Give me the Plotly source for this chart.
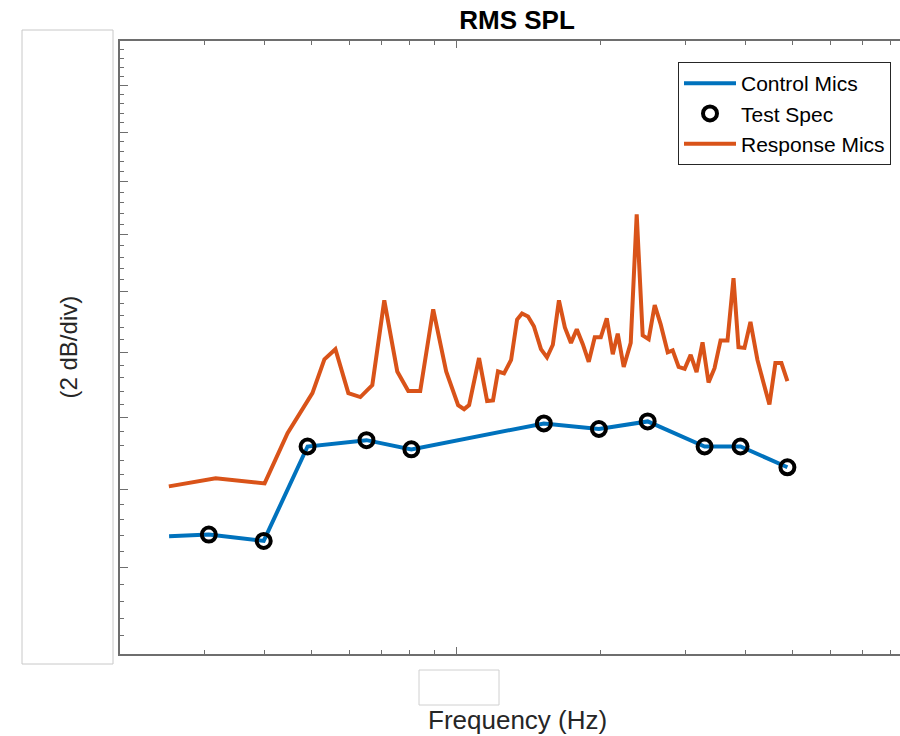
import plotly.graph_objects as go

# Control-microphone average level vs. frequency
control_freq = [25.3, 30.6, 39.8, 49.1, 65.1, 80.7, 152.2, 198.1, 250.2, 328.6, 390.3, 488.5]
control_level = [10.39, 10.41, 10.33, 11.59, 11.68, 11.55, 11.92, 11.84, 11.95, 11.59, 11.59, 11.30]

# Test specification breakpoints
spec_freq = [30.6, 39.8, 49.1, 65.1, 80.7, 152.2, 198.1, 250.2, 328.6, 390.3, 488.5]
spec_level = [10.41, 10.33, 11.59, 11.68, 11.55, 11.92, 11.84, 11.95, 11.59, 11.59, 11.30]

# Response-microphone level vs. frequency
resp_freq = [25.27, 31.62, 39.97, 44.61, 50.25, 53.22, 56.10, 59.69, 63.21, 66.94,
             70.89, 75.44, 79.52, 84.20, 89.60, 95.34, 100.96, 103.9, 106.4, 111.6,
             116.0, 119.3, 122.2, 125.8, 130.1, 133.9, 137.1, 141.1, 145.1, 150.1,
             154.5, 158.9, 163.6, 168.3, 173.3, 178.2, 183.4, 188.7, 194.2, 199.9,
             205.7, 211.7, 216.8, 223.1, 230.7, 237.4, 244.3, 251.4, 258.8, 266.3,
             275.4, 282.0, 290.2, 298.7, 307.4, 316.2, 325.4, 334.9, 344.6, 354.7,
             366.7, 377.4, 386.5, 397.7, 409.3, 423.2, 435.5, 448.2, 461.2, 474.7,
             488.5]
resp_level = [11.04, 11.15, 11.08, 11.78, 12.37, 12.89, 13.05, 12.37, 12.31, 12.49,
              13.85, 12.70, 12.40, 12.40, 13.70, 12.70, 12.19, 12.13, 12.19, 12.91,
              12.25, 12.26, 12.70, 12.67, 12.88, 13.53, 13.63, 13.58, 13.42, 13.05,
              12.92, 13.12, 13.85, 13.40, 13.15, 13.37, 13.13, 12.85, 13.24, 13.24,
              13.55, 12.97, 13.30, 12.77, 13.15, 15.38, 13.27, 13.21, 13.77, 13.45,
              13.00, 13.03, 12.77, 12.74, 12.96, 12.69, 13.16, 12.53, 12.75, 13.19,
              13.19, 14.23, 13.08, 13.07, 13.49, 12.88, 12.53, 12.20, 12.83, 12.83,
              12.55]

# Axis ticks (log axes, labels suppressed)
x_major = [100, 1000]
x_minor = [20, 30, 40, 50, 60, 70, 80, 90, 200, 300, 400, 500, 600, 700, 800, 900]
y_major = list(range(9, 20))
y_minor = [round(v + k * 0.2, 1) for v in y_major[:-1] for k in range(1, 5)]

W, H = 900, 736
L, R, T, B = 120, 0, 41, 82
pw, ph = W - L - R, H - T - B


def px(x):
    return (x - L) / pw


def py(y):
    return (H - B - y) / ph


FONT = "Liberation Sans, Arial, Helvetica, sans-serif"
AX = "#6e6e6e"

fig = go.Figure()
fig.add_trace(go.Scatter(
    x=control_freq, y=control_level, mode="lines", name="Control Mics",
    line=dict(color="#0072BD", width=4)))
fig.add_trace(go.Scatter(
    x=spec_freq, y=spec_level, mode="markers", name="Test Spec",
    marker=dict(symbol="circle-open", size=14, color="black",
                line=dict(color="black", width=4))))
fig.add_trace(go.Scatter(
    x=resp_freq, y=resp_level, mode="lines", name="Response Mics",
    line=dict(color="#D95319", width=4)))

fig.update_xaxes(
    type="log", range=[1.30103, 2.923], showgrid=False, zeroline=False,
    showticklabels=False, showline=True, linecolor=AX, linewidth=1.8,
    mirror="ticks", ticks="inside", tickmode="array", tickvals=x_major,
    ticklen=7, tickwidth=1.3, tickcolor=AX,
    minor=dict(tickmode="array", tickvals=x_minor, ticks="inside",
               ticklen=4, tickwidth=1.3, tickcolor=AX, showgrid=False))
fig.update_yaxes(
    type="log", range=[0.95424, 1.27875], showgrid=False, zeroline=False,
    showticklabels=False, showline=True, linecolor=AX, linewidth=1.8,
    mirror=False, ticks="inside", tickmode="array", tickvals=y_major,
    ticklen=8, tickwidth=1.3, tickcolor=AX,
    minor=dict(tickmode="array", tickvals=y_minor, ticks="inside",
               ticklen=4, tickwidth=1.3, tickcolor=AX, showgrid=False))

fig.update_layout(
    width=W, height=H, margin=dict(l=L, r=R, t=T, b=B, autoexpand=False),
    paper_bgcolor="white", plot_bgcolor="white",
    font=dict(family=FONT, color="#262626"),
    title=dict(text="<b>RMS SPL</b>", x=517 / W, xref="container", xanchor="center",
               y=1 - 20 / H, yref="container", yanchor="middle",
               font=dict(size=26, color="black", family=FONT)),
    legend=dict(x=px(891), y=py(62), xanchor="right", yanchor="top",
                bgcolor="white", bordercolor="#262626", borderwidth=1,
                font=dict(size=21, color="black", family=FONT),
                itemwidth=52, tracegroupgap=0),
    shapes=[
        dict(type="rect", xref="paper", yref="paper",
             x0=px(22), x1=px(113), y0=py(664), y1=py(30),
             line=dict(color="#c8c8c8", width=1), fillcolor="rgba(0,0,0,0)"),
        dict(type="rect", xref="paper", yref="paper",
             x0=px(419), x1=px(499), y0=py(705), y1=py(670),
             line=dict(color="#d0d0d0", width=1), fillcolor="rgba(0,0,0,0)"),
    ],
    annotations=[
        dict(text="Frequency (Hz)", xref="paper", yref="paper",
             x=px(517), y=py(720), xanchor="center", yanchor="middle",
             showarrow=False, font=dict(size=26, color="#262626", family=FONT)),
        dict(text="(2 dB/div)", xref="paper", yref="paper", textangle=-90,
             x=px(68), y=0.5, xanchor="center", yanchor="middle",
             showarrow=False, font=dict(size=24, color="#262626", family=FONT)),
    ],
)

fig.write_html("out.html")
